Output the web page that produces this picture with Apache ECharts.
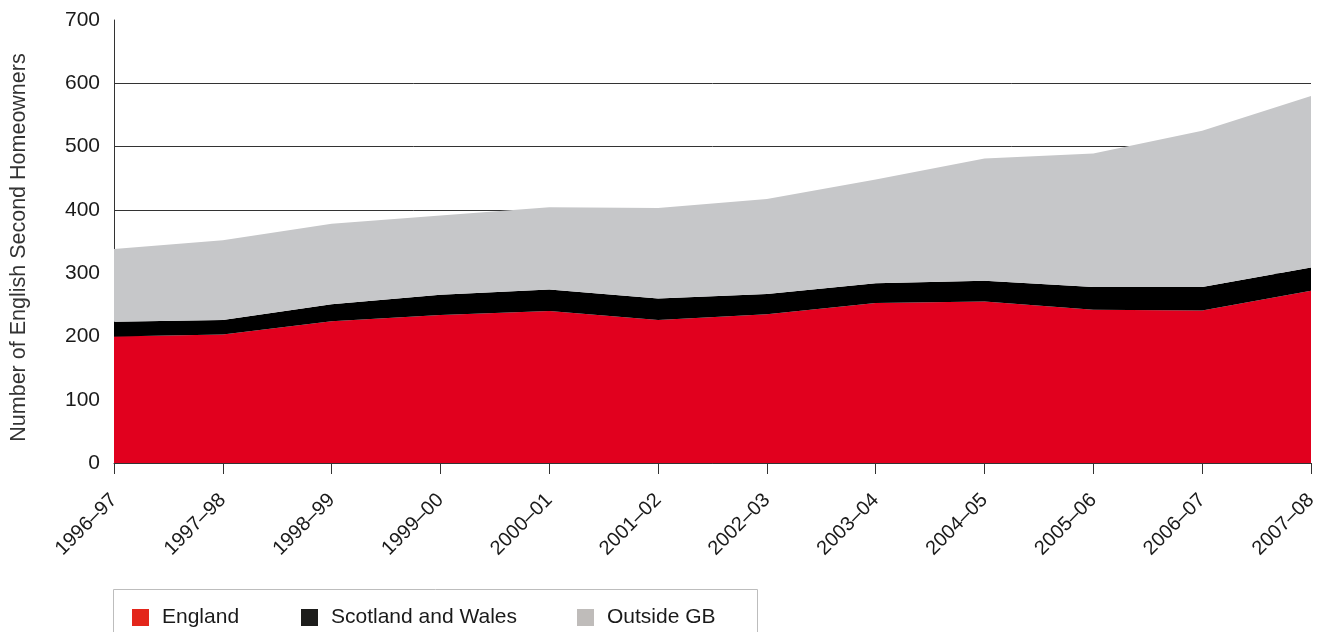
<!DOCTYPE html>
<html>
<head>
<meta charset="utf-8">
<script src="https://cdn.jsdelivr.net/npm/echarts@6/dist/echarts.min.js"></script>
<style>
html,body{margin:0;padding:0;background:#fff;}
#chart{width:1326px;height:632px;}
</style>
</head>
<body>
<div id="chart"></div>
<script>
const categories = ['1996–97','1997–98','1998–99','1999–00','2000–01','2001–02','2002–03','2003–04','2004–05','2005–06','2006–07','2007–08'];
const england = [200, 203, 224, 234, 240, 226, 235, 253, 255, 242, 241, 272];
const scotlandWales = [23, 23, 27, 32, 34, 34, 32, 31, 33, 36, 37, 37];
const outsideGB = [115, 126, 127, 125, 130, 143, 150, 164, 193, 211, 247, 271];
const yAxisTitle = 'Number of English Second Homeowners';
const seriesNames = ['England', 'Scotland and Wales', 'Outside GB'];

const FONT = '"Liberation Sans", Arial, Helvetica, sans-serif';
const chart = echarts.init(document.getElementById('chart'), null, {renderer: 'canvas'});

function areaSeries(name, data, color) {
  return {
    name: name,
    type: 'line',
    stack: 'total',
    data: data,
    showSymbol: false,
    symbol: 'none',
    lineStyle: {width: 0},
    areaStyle: {color: color, opacity: 1},
    itemStyle: {color: color},
    emphasis: {disabled: true},
    silent: true
  };
}

const legendColors = ['#e3261b', '#1d1d1b', '#bfbcba'];
const legendLefts = [132, 301, 577];
const legends = seriesNames.map(function (n, i) {
  return {
    left: legendLefts[i],
    top: 607,
    padding: 0,
    itemWidth: 17,
    itemHeight: 17,
    icon: 'rect',
    selectedMode: false,
    textStyle: {fontSize: 21, color: '#1a1a1a', fontFamily: FONT, padding: [0, 0, 0, 8]},
    data: [{name: n, itemStyle: {color: legendColors[i]}}]
  };
});

chart.setOption({
  animation: false,
  textStyle: {fontFamily: FONT},
  grid: {left: 114, right: 15, top: 20, bottom: 169, containLabel: false},
  graphic: [{
    type: 'rect',
    shape: {x: 113.5, y: 589.5, width: 644, height: 70},
    style: {fill: 'none', stroke: '#bdbdbd', lineWidth: 1},
    silent: true
  }],
  legend: legends,
  xAxis: {
    type: 'category',
    data: categories,
    boundaryGap: false,
    axisLine: {lineStyle: {color: '#333', width: 1}},
    axisTick: {show: true, length: 11, lineStyle: {color: '#333'}, alignWithLabel: true},
    axisLabel: {rotate: 45, fontSize: 20, color: '#1a1a1a', margin: 34, fontFamily: FONT, interval: 0}
  },
  yAxis: {
    type: 'value',
    min: 0,
    max: 700,
    interval: 100,
    name: yAxisTitle,
    nameLocation: 'middle',
    nameGap: 84,
    nameTextStyle: {fontSize: 21.5, color: '#333', fontFamily: FONT, padding: [0, 12, 0, 0]},
    axisLine: {show: true, lineStyle: {color: '#333', width: 1}},
    axisTick: {show: false},
    axisLabel: {fontSize: 21, color: '#1a1a1a', margin: 14, fontFamily: FONT},
    splitLine: {show: true, showMaxLine: false, lineStyle: {color: '#333', width: 1}}
  },
  series: [
    areaSeries(seriesNames[0], england, '#e1001e'),
    areaSeries(seriesNames[1], scotlandWales, '#000000'),
    areaSeries(seriesNames[2], outsideGB, '#c6c7c9')
  ]
});
</script>
</body>
</html>
